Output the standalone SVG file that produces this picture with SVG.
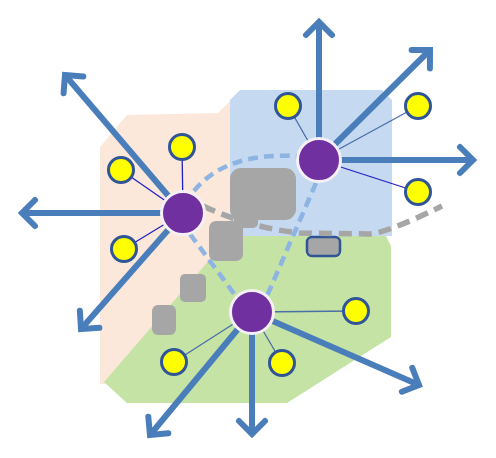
<svg xmlns="http://www.w3.org/2000/svg" width="496" height="458" viewBox="0 0 496 458">
<style>
.hub{fill:#7030A0;stroke:#F4F0F6;stroke-width:3}
.sat{fill:#FFFF00;stroke:#2F5597;stroke-width:3}
.arrow{fill:none;stroke:#4A7EBB;stroke-width:6;marker-end:url(#chev)}
.lnk{stroke-width:1.3;fill:none}
.lnkA{stroke:#2020C8}
.lnkB{stroke:#4A6EA8}
.route{fill:none;stroke:#8DB4E2;stroke-width:4.5;stroke-dasharray:10 6}
.border{fill:none;stroke:#A6A6A6;stroke-width:5.5;stroke-dasharray:13 7}
.block{fill:#A6A6A6}
</style>
<defs>
<marker id="chev" markerUnits="userSpaceOnUse" orient="auto" markerWidth="40" markerHeight="40" viewBox="-20 -20 40 40" refX="0" refY="0" overflow="visible">
<path d="M-13,-13 L0,0 L-13,13" fill="none" stroke="#4A7EBB" stroke-width="6" stroke-linecap="round" stroke-linejoin="miter"/>
</marker>
</defs>
<g id="regions">
<polygon points="100,147 127,115 218,113 232,99 232,240 106,384 100,384" fill="#FCE8DA"/>
<polygon points="230,100 240,90 382,90 392,100 392,236 230,236" fill="#C5D9F1"/>
<polygon points="230,236 386,236 391,246 391,337 287,403 127,403 104,382" fill="#C5E3A5"/>
</g>
<g id="obstacles">
<rect class="block" x="230" y="168" width="66" height="52" rx="11"/>
<rect class="block" x="234" y="200" width="24" height="28" rx="5"/>
<rect class="block" x="209" y="221" width="34" height="40" rx="7"/>
<rect class="block" x="180" y="274" width="26" height="28" rx="5"/>
<rect class="block" x="152" y="305" width="24" height="30" rx="6"/>
<rect class="block" x="307" y="237" width="33" height="19" rx="5" stroke="#2F5597" stroke-width="2.5"/>
</g>
<g id="connectors">
<path class="border" d="M203,206 Q250,228 300,233 L368,234 Q385,234 442,206"/>
<path class="route" d="M194,191 Q225,152 298,156"/>
<path class="route" d="M190,234 L235,295"/>
<path class="route" d="M316,183 L267,296"/>
<line class="lnk lnkA" x1="183" y1="213" x2="182" y2="147"/>
<line class="lnk lnkA" x1="183" y1="213" x2="121" y2="170"/>
<line class="lnk lnkA" x1="183" y1="213" x2="124" y2="249"/>
<line class="lnk lnkB" x1="319" y1="160" x2="288" y2="106"/>
<line class="lnk lnkB" x1="319" y1="160" x2="418" y2="106"/>
<line class="lnk lnkA" x1="319" y1="160" x2="418" y2="192"/>
<line class="lnk lnkB" x1="252" y1="312" x2="356" y2="311"/>
<line class="lnk lnkB" x1="252" y1="312" x2="282" y2="363"/>
<line class="lnk lnkB" x1="252" y1="312" x2="174" y2="362"/>
<line class="arrow" x1="183" y1="213" x2="65" y2="75"/>
<line class="arrow" x1="183" y1="213" x2="22" y2="213"/>
<line class="arrow" x1="183" y1="213" x2="81" y2="329"/>
<line class="arrow" x1="319" y1="160" x2="319" y2="22"/>
<line class="arrow" x1="319" y1="160" x2="430" y2="50"/>
<line class="arrow" x1="319" y1="160" x2="473" y2="160"/>
<line class="arrow" x1="252" y1="312" x2="150" y2="435"/>
<line class="arrow" x1="252" y1="312" x2="252" y2="434"/>
<line class="arrow" x1="252" y1="312" x2="419" y2="385"/>
</g>
<g id="hub-left"><circle class="hub" cx="183" cy="213" r="21.5"/></g>
<g id="hub-right"><circle class="hub" cx="319" cy="160" r="21.5"/></g>
<g id="hub-bottom"><circle class="hub" cx="252" cy="312" r="21.5"/></g>
<g id="sat-l1"><circle class="sat" cx="182" cy="147" r="12.5"/></g>
<g id="sat-l2"><circle class="sat" cx="121" cy="170" r="12.5"/></g>
<g id="sat-l3"><circle class="sat" cx="124" cy="249" r="12.5"/></g>
<g id="sat-r1"><circle class="sat" cx="288" cy="106" r="12.5"/></g>
<g id="sat-r2"><circle class="sat" cx="418" cy="106" r="12.5"/></g>
<g id="sat-r3"><circle class="sat" cx="418" cy="192" r="12.5"/></g>
<g id="sat-b1"><circle class="sat" cx="356" cy="311" r="12.5"/></g>
<g id="sat-b2"><circle class="sat" cx="282" cy="363" r="12.5"/></g>
<g id="sat-b3"><circle class="sat" cx="174" cy="362" r="12.5"/></g>
</svg>
